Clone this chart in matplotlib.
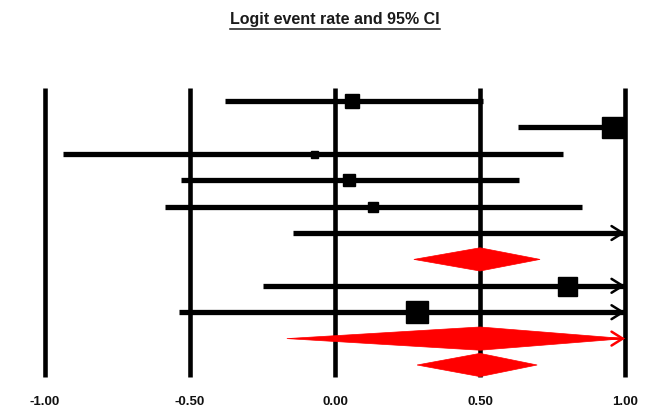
import numpy as np
import matplotlib
matplotlib.use("Agg")
import matplotlib.pyplot as plt
from matplotlib.patches import Polygon

plt.rcParams['font.family'] = ['Liberation Sans', 'DejaVu Sans']

# Study rows (top to bottom); NaN upper limit = runs past the axis (arrow),
# NaN point = estimate off the axis
kind = ['study', 'study', 'study', 'study', 'study', 'study',
        'summary', 'study', 'study', 'summary', 'summary']
point = [0.059, 0.955, -0.072, 0.048, 0.131, np.nan,
         0.50, 0.80, 0.283, 0.50, 0.50]
ci_lo = [-0.379, 0.631, -0.938, -0.531, -0.586, -0.145,
         0.272, -0.248, -0.538, -0.166, 0.283]
ci_hi = [0.51, 1.0, 0.786, 0.634, 0.852, np.nan,
         0.707, np.nan, np.nan, np.nan, 0.697]
weight_px = [14, 21, 7, 12, 10, 0, 0, 19, 23, 0, 0]   # square side, pixels

ticks = [-1.0, -0.5, 0.0, 0.5, 1.0]
tick_labels = ['-1.00', '-0.50', '0.00', '0.50', '1.00']
title = 'Logit event rate and 95% CI'

W, H = 651, 410
fig = plt.figure(figsize=(W / 100, H / 100), dpi=100)
left_px, right_px = 45, 625
top_px, bot_px = 89, 378
ax = fig.add_axes([left_px / W, 1 - bot_px / H,
                   (right_px - left_px) / W, (bot_px - top_px) / H])
xmin, xmax = -1.0, 1.0
ax.set_xlim(xmin, xmax)
row_px = 26.4
ax.set_ylim((bot_px - 102) / row_px, -(102 - top_px) / row_px)
ax.axis('off')

# vertical reference lines at each tick
for t in ticks:
    ax.plot([t, t], ax.get_ylim(), color='black', lw=3.3,
            solid_capstyle='butt', clip_on=False, zorder=1)

px2pt = 72 / 100
arrow_style = '->,head_length=0.8,head_width=0.5'


def open_arrow(y, color):
    ax.annotate('', xy=(xmax, y), xytext=(xmax - 0.05, y),
                arrowprops=dict(arrowstyle=arrow_style, color=color, lw=1.8,
                                shrinkA=0, shrinkB=0),
                annotation_clip=False, zorder=3)


for i, k in enumerate(kind):
    y = i
    lo = ci_lo[i]
    hi = ci_hi[i]
    open_end = np.isnan(hi)
    hi_draw = xmax if open_end else hi
    color = 'black' if k == 'study' else '#ff0000'
    if k == 'study':
        ax.plot([lo, hi_draw], [y, y], color='black', lw=3.8,
                solid_capstyle='butt', clip_on=False, zorder=2)
        if not np.isnan(point[i]):
            ax.plot(point[i], y, marker='s', color='black',
                    markersize=weight_px[i] * px2pt, clip_on=False, zorder=3)
    else:
        h = 0.44
        poly = Polygon([[lo, y], [point[i], y - h], [hi_draw, y],
                        [point[i], y + h]], closed=True,
                       facecolor='#ff0000', edgecolor='#ff0000', lw=0.5,
                       clip_on=False, zorder=3)
        ax.add_patch(poly)
    if open_end:
        open_arrow(y, color)

# tick labels under the axis
for t, lab in zip(ticks, tick_labels):
    fig.text((left_px + (t - xmin) / (xmax - xmin) * (right_px - left_px)) / W,
             1 - 402.5 / H, lab, ha='center', va='center',
             fontsize=9.5, fontweight='bold', color='#111111')

# underlined title
ttl = fig.text(335 / W, 1 - 19.5 / H, title, ha='center', va='center',
               fontsize=11.5, fontweight='bold', color='#1a1a1a')
fig.canvas.draw()
bb = ttl.get_window_extent()
uy = 1 - 29.5 / H
fig.add_artist(plt.Line2D([bb.x0 / W, bb.x1 / W], [uy, uy],
                          transform=fig.transFigure, color='#1a1a1a', lw=1.1))

fig.savefig('out.png', dpi=100)
